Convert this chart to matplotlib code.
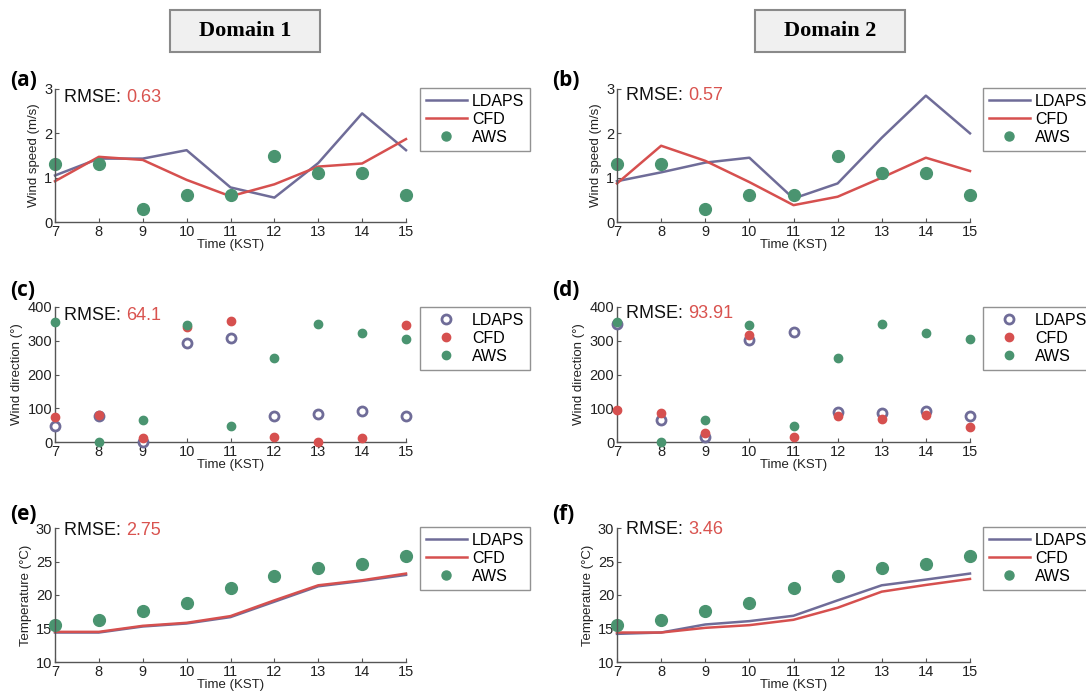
import matplotlib
matplotlib.use('Agg')
import matplotlib.pyplot as plt
from matplotlib.patches import Rectangle

hours = [7, 8, 9, 10, 11, 12, 13, 14, 15]

# wind speed (m/s)
ws_ldaps_d1 = [1.05, 1.43, 1.43, 1.62, 0.78, 0.55, 1.33, 2.45, 1.62]
ws_cfd_d1 = [0.92, 1.47, 1.40, 0.95, 0.58, 0.85, 1.25, 1.32, 1.87]
ws_ldaps_d2 = [0.92, 1.12, 1.34, 1.45, 0.53, 0.87, 1.90, 2.85, 2.00]
ws_cfd_d2 = [0.87, 1.72, 1.38, 0.90, 0.38, 0.57, 1.00, 1.45, 1.15]
ws_aws = [1.3, 1.3, 0.3, 0.6, 0.6, 1.5, 1.1, 1.1, 0.6]

# wind direction (deg)
wd_ldaps_d1 = [48, 78, 1, 292, 307, 77, 83, 91, 77]
wd_cfd_d1 = [73, 79, 12, 340, 358, 15, 1, 11, 347]
wd_ldaps_d2 = [350, 65, 15, 301, 325, 88, 87, 91, 76]
wd_cfd_d2 = [96, 87, 27, 316, 16, 77, 67, 80, 45]
wd_aws = [356, 1, 65, 347, 47, 249, 350, 322, 305]

# temperature (deg C)
t_ldaps_d1 = [14.4, 14.4, 15.3, 15.75, 16.7, 19.0, 21.3, 22.1, 23.0]
t_cfd_d1 = [14.5, 14.5, 15.4, 15.85, 16.85, 19.2, 21.45, 22.2, 23.2]
t_ldaps_d2 = [14.2, 14.4, 15.6, 16.1, 16.9, 19.2, 21.45, 22.3, 23.2]
t_cfd_d2 = [14.4, 14.4, 15.1, 15.5, 16.3, 18.1, 20.5, 21.5, 22.4]
t_aws = [15.45, 16.25, 17.65, 18.85, 21.1, 22.8, 24.0, 24.7, 25.75]

rmse_values = ['0.63', '0.57', '64.1', '93.91', '2.75', '3.46']
panel_labels = ['(a)', '(b)', '(c)', '(d)', '(e)', '(f)']
domain_titles = ['Domain 1', 'Domain 2']

C_LDAPS = '#6f6c98'
C_CFD = '#d6504f'
C_AWS = '#4a9470'
C_RED_TXT = '#d9534f'
AX_COL = '#555555'

W, H = 1086, 694
fig = plt.figure(figsize=(W / 100, H / 100), dpi=100)
plt.rcParams['font.family'] = ['Liberation Sans', 'DejaVu Sans']


def fx(px):
    return px / W


def fy(py):
    return 1 - py / H


def make_axes(left, right, top, bottom):
    ax = fig.add_axes([fx(left), fy(bottom), fx(right - left), (bottom - top) / H])
    ax.spines['top'].set_visible(False)
    ax.spines['right'].set_visible(False)
    for s in ['left', 'bottom']:
        ax.spines[s].set_color(AX_COL)
        ax.spines[s].set_linewidth(1.0)
    ax.tick_params(direction='in', length=3, color=AX_COL, labelsize=10.5,
                   labelcolor='#222222', pad=2)
    ax.set_xlim(7, 15)
    ax.set_xticks(hours)
    ax.set_xlabel('Time (KST)', fontsize=9.5, labelpad=0, color='#222222')
    return ax


def rmse_text(ax, x, y, val):
    t1 = ax.text(x, y, 'RMSE: ', transform=ax.transAxes, fontsize=13,
                 va='baseline', ha='left', color='#111111')
    ax.annotate(val, xy=(1, 0), xycoords=t1, va='bottom', ha='left',
                fontsize=13, color=C_RED_TXT)


def add_legend(ax, handles, labels, x, y):
    leg = fig.legend(handles, labels, loc='upper left',
                     bbox_to_anchor=(fx(x), fy(y)), fontsize=11.5,
                     frameon=True, fancybox=False, edgecolor='#777777',
                     borderpad=0.35, labelspacing=0.2, handlelength=2.6,
                     handletextpad=0.3, borderaxespad=0)
    leg.get_frame().set_linewidth(1.0)
    return leg


cols = [(55, 406, 420), (617, 970, 983)]
rows = [(89, 222, 88), (307, 442, 307), (528, 662, 527)]

speed_sets = [(ws_ldaps_d1, ws_cfd_d1), (ws_ldaps_d2, ws_cfd_d2)]
dir_sets = [(wd_ldaps_d1, wd_cfd_d1), (wd_ldaps_d2, wd_cfd_d2)]
temp_sets = [(t_ldaps_d1, t_cfd_d1), (t_ldaps_d2, t_cfd_d2)]
rmse_y = [(0.905, 0.915), (0.905, 0.918), (0.948, 0.955)]

for c, (left, right, leg_x) in enumerate(cols):
    # wind speed
    top, bottom, leg_y = rows[0]
    ax = make_axes(left, right, top, bottom)
    ldaps, cfd = speed_sets[c]
    l1, = ax.plot(hours, ldaps, color=C_LDAPS, lw=1.8, clip_on=False)
    l2, = ax.plot(hours, cfd, color=C_CFD, lw=1.8, clip_on=False)
    l3, = ax.plot(hours, ws_aws, 'o', color=C_AWS, ms=8.5, ls='none', clip_on=False)
    ax.set_ylim(0, 3)
    ax.set_yticks([0, 1, 2, 3])
    ax.set_ylabel('Wind speed (m/s)', fontsize=9.5, labelpad=3, color='#222222')
    rmse_text(ax, 0.026, rmse_y[0][c], rmse_values[c])
    leg = add_legend(ax, [l1, l2, l3], ['LDAPS', 'CFD', 'AWS'], leg_x, leg_y)
    for h in leg.legend_handles[2:]:
        h.set_markersize(6.5)

    # wind direction
    top, bottom, leg_y = rows[1]
    ax = make_axes(left, right, top, bottom)
    ldaps, cfd = dir_sets[c]
    p1, = ax.plot(hours, ldaps, 'o', mfc='white', mec=C_LDAPS, mew=2, ms=6.5,
                  ls='none', clip_on=False, zorder=3)
    p2, = ax.plot(hours, cfd, 'o', color=C_CFD, ms=6, ls='none', clip_on=False, zorder=4)
    p3, = ax.plot(hours, wd_aws, 'o', color=C_AWS, ms=6, ls='none', clip_on=False, zorder=5)
    ax.set_ylim(0, 400)
    ax.set_yticks([0, 100, 200, 300, 400])
    ax.set_ylabel('Wind direction (°)', fontsize=9.5, labelpad=3, color='#222222')
    rmse_text(ax, 0.026, rmse_y[1][c], rmse_values[2 + c])
    add_legend(ax, [p1, p2, p3], ['LDAPS', 'CFD', 'AWS'], leg_x, leg_y)

    # temperature
    top, bottom, leg_y = rows[2]
    ax = make_axes(left, right, top, bottom)
    ldaps, cfd = temp_sets[c]
    l1, = ax.plot(hours, ldaps, color=C_LDAPS, lw=1.8, clip_on=False)
    l2, = ax.plot(hours, cfd, color=C_CFD, lw=1.8, clip_on=False)
    l3, = ax.plot(hours, t_aws, 'o', color=C_AWS, ms=8.5, ls='none', clip_on=False)
    ax.set_ylim(10, 30)
    ax.set_yticks([10, 15, 20, 25, 30])
    ax.set_ylabel('Temperature (°C)', fontsize=9.5, labelpad=3, color='#222222')
    rmse_text(ax, 0.026, rmse_y[2][c], rmse_values[4 + c])
    leg = add_legend(ax, [l1, l2, l3], ['LDAPS', 'CFD', 'AWS'], leg_x, leg_y)
    for h in leg.legend_handles[2:]:
        h.set_markersize(6.5)

# panel letters
label_pos = [(10, 80), (552, 80), (10, 290), (552, 290), (10, 514), (552, 514)]
for lab, (px, py) in zip(panel_labels, label_pos):
    fig.text(fx(px), fy(py), lab, fontsize=15, fontweight='bold',
             family=['Open Sans', 'DejaVu Sans'], ha='left', va='center')

# domain header boxes
for title, (x0, x1) in zip(domain_titles, [(170, 320), (755, 905)]):
    fig.patches.append(Rectangle((fx(x0), fy(52)), fx(x1 - x0), 42 / H,
                                 transform=fig.transFigure, facecolor='#f0f0f0',
                                 edgecolor='#8a8a8a', lw=1.5))
    fig.text(fx((x0 + x1) / 2), fy(31), title, fontsize=16, fontweight='bold',
             family=['Liberation Serif', 'DejaVu Serif'], ha='center', va='center')

fig.savefig('out.png', dpi=100)
